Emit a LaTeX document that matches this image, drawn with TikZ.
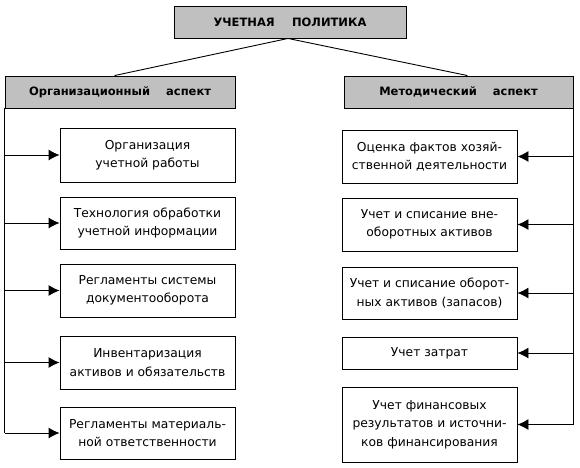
\documentclass[tikz,border=0pt]{standalone}
\usepackage{fontspec}
\setmainfont{DejaVu Sans}
\usetikzlibrary{arrows.meta}
\definecolor{hdrgray}{HTML}{C0C0C0}
\begin{document}
\begin{tikzpicture}[x=1pt,y=-1pt,
  hdr/.style={draw, line width=0.9pt, fill=hdrgray, font=\bfseries\fontsize{11.5}{13}\selectfont, inner sep=0pt, minimum height=32pt},
  itembox/.style={draw, line width=0.9pt, fill=white, align=center, font=\fontsize{12.3}{18.5}\selectfont, inner sep=0pt, minimum width=175pt},
  link/.style={-{Latex[length=11pt,width=11pt]}, line width=0.9pt},
  plain/.style={line width=0.9pt}]
\useasboundingbox (0,0) rectangle (580,467);
\node[hdr, minimum width=232pt] (top) at (290,22) {УЧЕТНАЯ\hspace{1.5em}ПОЛИТИКА};
\node[hdr, minimum width=230pt] (lh) at (120,92) {Организационный\hspace{1.4em}аспект};
\node[hdr, minimum width=229pt] (rh) at (458.5,92) {Методический\hspace{1.4em}аспект};

\node[itembox, minimum height=54pt] (L1) at (147.5,155) {Организация\\учетной работы};
\node[itembox, minimum height=52pt] (L2) at (147.5,223) {Технология обработки\\учетной информации};
\node[itembox, minimum height=53pt] (L3) at (147.5,290.5) {Регламенты системы\\документооборота};
\node[itembox, minimum height=53pt] (L4) at (147.5,362.5) {Инвентаризация\\активов и обязательств};
\node[itembox, minimum height=52pt] (L5) at (147.5,433) {Регламенты материаль-\\ной ответственности};

\node[itembox, minimum height=53pt] (R1) at (429.5,156.5) {Оценка фактов хозяй-\\ственной деятельности};
\node[itembox, minimum height=53pt] (R2) at (429.5,224.5) {Учет и списание вне-\\оборотных активов};
\node[itembox, minimum height=52pt] (R3) at (429.5,293) {Учет и списание оборот-\\ных активов (запасов)};
\node[itembox, minimum height=32pt] (R4) at (429.5,353) {Учет затрат};
\node[itembox, minimum height=75pt] (R5) at (429.5,424.5) {Учет финансовых\\результатов и источни-\\ков финансирования};

\draw[plain] ([xshift=-2pt]top.south) -- ([xshift=110pt]lh.north west);
\draw[plain] ([xshift=-2pt]top.south) -- ([xshift=-106pt]rh.north east);

\draw[plain] (lh.south west) -- (lh.south west |- L5.west);
\foreach \n in {L1,L2,L3,L4,L5}
  \draw[link] (lh.south west |- \n.west) -- (\n.west);

\draw[plain] (rh.south east) -- (rh.south east |- R5.east);
\foreach \n in {R1,R2,R3,R4,R5}
  \draw[link] (rh.south east |- \n.east) -- (\n.east);
\end{tikzpicture}
\end{document}
